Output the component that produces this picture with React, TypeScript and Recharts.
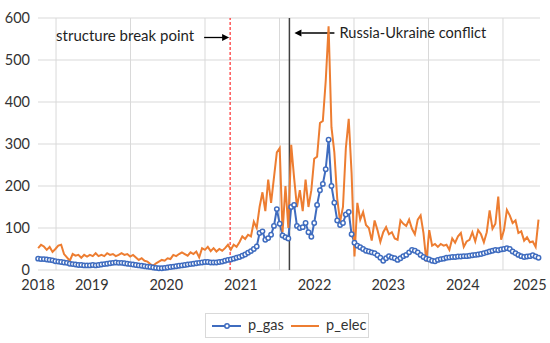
import React from "react";
import { LineChart, Line, XAxis, YAxis, CartesianGrid, ReferenceLine } from "recharts";

// fortnightly prices
const gas = [
  27, 26, 26, 25, 24, 23, 21, 20, 19, 18,
  17, 15, 14, 13, 12, 12, 11, 11, 11, 12,
  11, 12, 13, 14, 15, 16, 17, 18, 17, 17,
  16, 15, 14, 13, 12, 11, 10, 9, 8, 7,
  6, 5, 4, 4, 5, 6, 7, 8, 9, 10,
  11, 12, 13, 14, 15, 16, 17, 18, 19, 19,
  18, 18, 18, 19, 20, 22, 24, 25, 27, 29,
  31, 34, 37, 41, 45, 50, 56, 88, 92, 72,
  76, 84, 105, 145, 110, 82, 78, 75, 150, 155,
  105, 100, 102, 112, 90, 79, 112, 155, 190, 205,
  240, 310, 200, 160, 118, 107, 112, 132, 138, 85,
  65, 58, 54, 50, 46, 44, 42, 40, 35, 29,
  22, 28, 33, 30, 28, 24, 28, 33, 36, 42,
  48, 46, 42, 36, 31, 27, 25, 22, 21, 24,
  26, 27, 29, 30, 31, 31, 32, 32, 33, 33,
  34, 35, 36, 37, 38, 40, 42, 44, 46, 48,
  47, 49, 50, 52, 50, 44, 40, 36, 33, 31,
  32, 33, 35, 32, 29,
];

const elec = [
  52, 60, 56, 48, 55, 43, 50, 58, 60, 38,
  30, 22, 38, 34, 36, 29, 36, 32, 36, 33,
  40, 33, 36, 33, 40, 36, 38, 33, 36, 40,
  36, 38, 32, 36, 30, 24, 28, 22, 20, 14,
  10, 16, 20, 24, 22, 28, 26, 36, 33, 38,
  42, 38, 34, 42, 38, 44, 30, 52, 48, 55,
  45, 52, 44, 50, 46, 52, 60, 48, 60, 55,
  66, 80, 74, 84, 80, 115, 100, 150, 185, 140,
  215, 160, 220, 280, 290, 90, 200, 100, 298, 220,
  150, 190, 140, 215, 150, 190, 265, 270, 350, 355,
  450, 580, 340, 280, 170, 115, 150, 290, 360, 230,
  32, 160, 120, 138, 107, 100, 70, 118, 95, 67,
  90, 102, 85, 90, 75, 72, 118, 110, 105, 120,
  98, 85, 120, 130, 88, 20, 95, 58, 62, 55,
  62, 58, 60, 48, 75, 65, 80, 88, 55, 68,
  72, 90, 68, 95, 85, 66, 90, 142, 98, 110,
  175, 72, 95, 143, 130, 112, 118, 88, 92, 70,
  78, 66, 68, 55, 120,
];

const START_YEAR = 2018.76;
const STEP = 14.1 / 365.25;
const yTicks = [0, 100, 200, 300, 400, 500, 600];
const yearLines = [2019, 2020, 2021, 2022, 2023, 2024, 2025];
const yearLabelPos = [2018.76, 2019.48, 2020.48, 2021.48, 2022.47, 2023.46, 2024.46, 2025.36];
const breakPoint = 2021.337;
const conflictStart = 2022.133;

const data = gas.map((g, i) => ({
  t: START_YEAR + i * STEP,
  p_gas: g,
  p_elec: elec[i],
}));

const FONT = "Lato, 'Open Sans', sans-serif";
const BLUE = "#3f6cbf";
const ORANGE = "#ed7d31";
const TEXT = "#333";

const BreakLabel = (props: any) => {
  const x = props.viewBox?.x ?? 0;
  return (
    <g>
      <text x={x - 174} y={37} dominantBaseline="middle" fontSize={15} fill="#1f1f1f" fontFamily={FONT}>
        structure break point
      </text>
      <line x1={x - 26} y1={37.5} x2={x - 7} y2={37.5} stroke="#000" strokeWidth={1.3} />
      <polygon points={`${x - 1},37.5 ${x - 8},34 ${x - 8},41`} fill="#000" />
    </g>
  );
};

const ConflictLabel = (props: any) => {
  const x = props.viewBox?.x ?? 0;
  return (
    <g>
      <line x1={x + 12} y1={33} x2={x + 45} y2={33} stroke="#000" strokeWidth={1.3} />
      <polygon points={`${x + 5},33 ${x + 12},29.5 ${x + 12},36.5`} fill="#000" />
      <text x={x + 50} y={34} dominantBaseline="middle" fontSize={14.6} fill="#1f1f1f" fontFamily={FONT}>
        Russia-Ukraine conflict
      </text>
    </g>
  );
};

export default function App() {
  return (
    <div style={{ position: "absolute", left: 0, top: 0, width: 550, height: 343, background: "#fff" }}>
      <LineChart
        width={550}
        height={343}
        data={data}
        margin={{ top: 18, right: 10, left: 0, bottom: 43 }}
      >
        <CartesianGrid vertical={false} stroke="#d9d9d9" />
        {yearLines.map((y) => (
          <ReferenceLine key={y} x={y} stroke="#d9d9d9" />
        ))}
        <XAxis
          dataKey="t"
          type="number"
          domain={[2018.758, 2025.497]}
          ticks={yearLabelPos}
          interval={0}
          tickFormatter={(v) => String(Math.floor(v))}
          tickLine={false}
          axisLine={false}
          tickMargin={4}
          height={30}
          tick={{ fontSize: 14.5, fill: TEXT, fontFamily: FONT }}
        />
        <YAxis
          domain={[0, 600]}
          ticks={yTicks}
          width={38}
          tickLine={false}
          axisLine={false}
          tick={{ fontSize: 14.5, fill: TEXT, fontFamily: FONT }}
        />
        <ReferenceLine
          x={breakPoint}
          stroke="#ff0000"
          strokeDasharray="3 2"
          strokeWidth={1}
          label={<BreakLabel />}
        />
        <ReferenceLine
          x={conflictStart}
          stroke="#404040"
          strokeWidth={1.5}
          label={<ConflictLabel />}
        />
        <Line
          type="linear"
          dataKey="p_gas"
          stroke={BLUE}
          strokeWidth={2}
          dot={{ r: 2.2, stroke: BLUE, strokeWidth: 1.5, fill: "#fff" }}
          isAnimationActive={false}
        />
        <Line
          type="linear"
          dataKey="p_elec"
          stroke={ORANGE}
          strokeWidth={2}
          dot={false}
          isAnimationActive={false}
        />
      </LineChart>
      <div
        style={{
          position: "absolute",
          left: 205,
          top: 313,
          width: 162,
          height: 23,
          border: "1px solid #d9d9d9",
          fontFamily: FONT,
          fontSize: 14.5,
          color: TEXT,
        }}
      >
        <svg width={30} height={10} style={{ position: "absolute", left: 6, top: 7 }}>
          <line x1={0} y1={5} x2={29} y2={5} stroke={BLUE} strokeWidth={2} />
          <circle cx={15} cy={5} r={2.2} stroke={BLUE} strokeWidth={1.5} fill="#fff" />
        </svg>
        <span style={{ position: "absolute", left: 42, top: 2 }}>p_gas</span>
        <svg width={30} height={10} style={{ position: "absolute", left: 85, top: 7 }}>
          <line x1={0} y1={5} x2={28} y2={5} stroke={ORANGE} strokeWidth={2} />
        </svg>
        <span style={{ position: "absolute", left: 120, top: 2 }}>p_elec</span>
      </div>
    </div>
  );
}
